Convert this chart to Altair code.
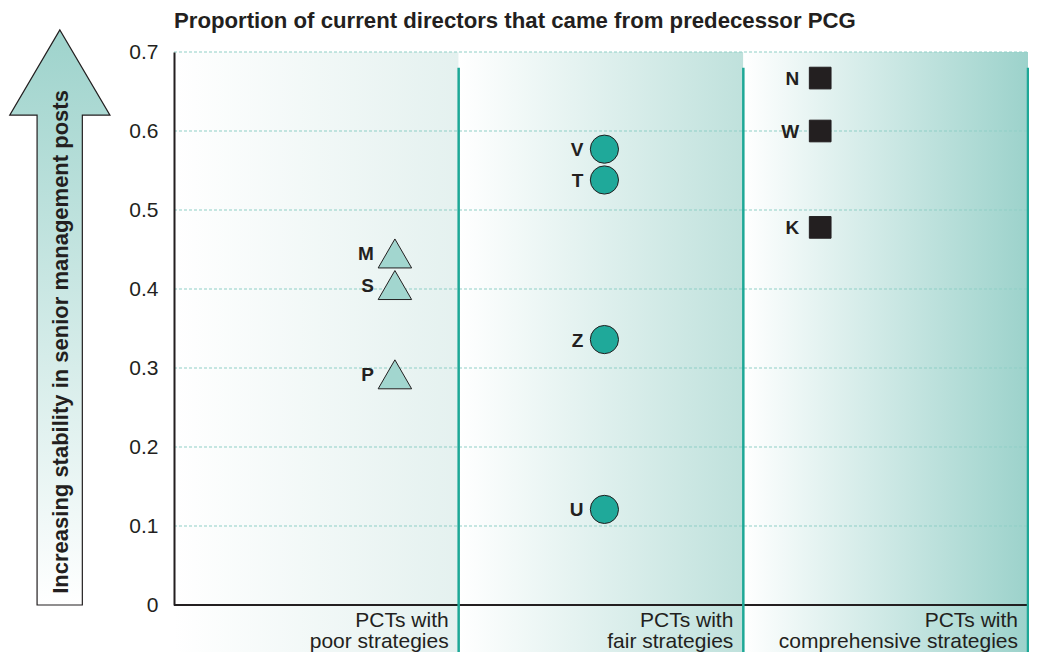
import altair as alt
import pandas as pd

# ---------------- data ----------------
categories = ["poor", "fair", "comprehensive"]
category_labels = ["PCTs with\npoor strategies", "PCTs with\nfair strategies",
                   "PCTs with\ncomprehensive strategies"]
pct_names = ["M", "S", "P", "V", "T", "Z", "U", "N", "W", "K"]
pct_category = ["poor", "poor", "poor", "fair", "fair", "fair", "fair",
                "comprehensive", "comprehensive", "comprehensive"]
pct_share = [0.445, 0.405, 0.292, 0.577, 0.538, 0.336, 0.121, 0.667, 0.600, 0.478]
y_ticks = [0, 0.1, 0.2, 0.3, 0.4, 0.5, 0.6, 0.7]
title_text = "Proportion of current directors that came from predecessor PCG"
arrow_text = "Increasing stability in senior management posts"

# ---------------- style / layout ----------------
PLOT_W, PLOT_H = 854, 553
FONT = "Liberation Sans"
INK = "#231f20"
TEAL = "#1ea897"
GRID = "#8fcfc6"
marker_shape = ["triangle-up", "circle", "square"]
marker_fill = ["#a2d6cf", "#1fa99a", "#231f20"]
marker_size = [1120, 470, 610]
marker_pos = [0.776, 0.512, 0.27]          # where the markers sit inside each band
panel_end_color = ["#e4f1ef", "#bfe1dc", "#9cd2cb"]
BG_BOTTOM = -0.07                           # backgrounds run below the axis
DIVIDER_TOP = 0.68

xs = alt.Scale(domain=[0, 3], nice=False, zero=False)
ys = alt.Scale(domain=[0, 0.7], nice=False, zero=False)
yax = alt.Axis(values=y_ticks,
               labelExpr="datum.value == 0 ? '0' : format(datum.value, '.1f')",
               domain=True, domainColor=INK, domainWidth=2,
               ticks=False, tickSize=0, grid=False,
               labelFont=FONT, labelFontSize=21, labelColor=INK, labelPadding=16,
               title=None, zindex=1)


def X(f):
    return alt.X(f, type="quantitative", scale=xs, axis=None)


def Y(f):
    return alt.Y(f, type="quantitative", scale=ys, axis=yax)


n = len(categories)
idx = {c: i for i, c in enumerate(categories)}

bg_df = pd.DataFrame({"cat": categories, "x0": list(range(n)), "x1": [i + 1 for i in range(n)],
                      "y0": [BG_BOTTOM] * n, "y1": [0.7] * n})
layers = []
for i, c in enumerate(categories):
    grad = alt.Gradient(gradient="linear", x1=0, x2=1, y1=0, y2=0,
                        stops=[alt.GradientStop(offset=0, color="#ffffff"),
                               alt.GradientStop(offset=1, color=panel_end_color[i])])
    layers.append(
        alt.Chart(bg_df).transform_filter(alt.datum.cat == c)
        .mark_rect(color=grad, strokeWidth=0, clip=False)
        .encode(x=X("x0"), x2="x1", y=Y("y0"), y2="y1")
    )

grid_df = pd.DataFrame({"y": y_ticks[1:], "x0": 0, "x1": n})
layers.append(alt.Chart(grid_df).mark_rule(color=GRID, strokeWidth=1, strokeDash=[3, 2])
              .encode(x=X("x0"), x2="x1", y=Y("y")))

xaxis_df = pd.DataFrame({"y": [0], "x0": [0], "x1": [n]})
layers.append(alt.Chart(xaxis_df).mark_rule(color=INK, strokeWidth=2)
              .encode(x=X("x0"), x2="x1", y=Y("y")))

div_df = pd.DataFrame({"x": [i + 1 for i in range(n)], "y0": BG_BOTTOM, "y1": DIVIDER_TOP})
layers.append(alt.Chart(div_df).mark_rule(color=TEAL, strokeWidth=2.5, clip=False)
              .encode(x=X("x"), y=Y("y0"), y2="y1"))

pts = pd.DataFrame({"name": pct_names, "cat": pct_category, "share": pct_share})
pts["x"] = [idx[c] + marker_pos[idx[c]] for c in pct_category]

layers.append(
    alt.Chart(pts).mark_point(filled=True, opacity=1, stroke=INK, strokeWidth=1)
    .encode(x=X("x"), y=Y("share"),
            shape=alt.Shape("cat:N", scale=alt.Scale(domain=categories, range=marker_shape), legend=None),
            fill=alt.Fill("cat:N", scale=alt.Scale(domain=categories, range=marker_fill), legend=None),
            size=alt.Size("cat:N", scale=alt.Scale(domain=categories, range=marker_size), legend=None))
)
layers.append(
    alt.Chart(pts).mark_text(align="right", baseline="middle", dx=-21, dy=1, font=FONT,
                             fontSize=19, fontWeight="bold", color=INK)
    .encode(x=X("x"), y=Y("share"), text="name:N")
)

cat_df = pd.DataFrame({"label": category_labels, "x": [i + 1 for i in range(n)], "y": 0})
layers.append(
    alt.Chart(cat_df).mark_text(align="right", baseline="top", dx=-10, dy=5, font=FONT,
                                fontSize=21, lineHeight=21, lineBreak="\n", color=INK, clip=False)
    .encode(x=X("x"), y=Y("y"), text="label:N")
)

title_df = pd.DataFrame({"t": [title_text], "x": [0], "y": [0.7]})
layers.append(
    alt.Chart(title_df).mark_text(align="left", baseline="alphabetic", dy=-24, font=FONT,
                                  fontSize=22.2, fontWeight="bold", color=INK, clip=False)
    .encode(x=X("x"), y=Y("y"), text="t:N")
)

# decorative arrow on the left (in axis units, outside the plot area)
arrow_df = pd.DataFrame({
    "y": [0.0, 0.620, 0.6201, 0.728],
    "xa": [-0.481, -0.481, -0.577, -0.401],
    "xb": [-0.322, -0.322, -0.225, -0.401],
})
arrow_grad = alt.Gradient(gradient="linear", x1=0, x2=0, y1=1, y2=0,
                          stops=[alt.GradientStop(offset=0, color="#ffffff"),
                                 alt.GradientStop(offset=1, color="#9ed3cc")])
layers.append(
    alt.Chart(arrow_df).mark_area(color=arrow_grad, stroke=INK, strokeWidth=1.2,
                                  orient="horizontal", clip=False)
    .encode(y=Y("y"), x=X("xa"), x2="xb")
)
atext_df = pd.DataFrame({"t": [arrow_text], "x": [-0.398], "y": [0.333]})
layers.append(
    alt.Chart(atext_df).mark_text(angle=270, align="center", baseline="middle", font=FONT,
                                  fontSize=22, fontWeight="bold", color=INK, clip=False)
    .encode(x=X("x"), y=Y("y"), text="t:N")
)

chart = alt.layer(*layers).properties(
    width=PLOT_W, height=PLOT_H,
    padding={"left": 166, "top": 44, "right": 1, "bottom": 47},
    autosize=alt.AutoSizeParams(type="none"),
    background="white",
).configure_view(stroke=None)

chart.save("out.html", embed_options={"renderer": "svg", "actions": False})
